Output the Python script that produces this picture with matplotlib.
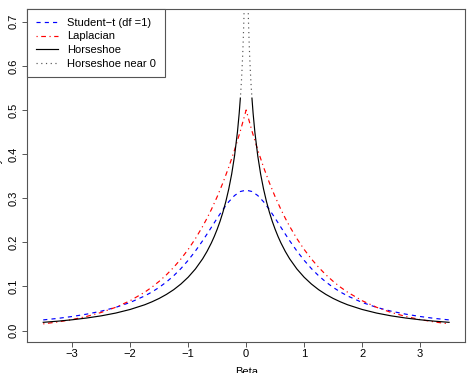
import numpy as np
import matplotlib
matplotlib.use('Agg')
import matplotlib.pyplot as plt

plt.rcParams['font.family'] = ['Liberation Sans', 'DejaVu Sans']

# beta grid for the student-t and laplace curves
beta = [-3.5, -3.25, -3.0, -2.75, -2.5, -2.25, -2.0, -1.75, -1.625, -1.5,
        -1.375, -1.25, -1.125, -1.0, -0.875, -0.75, -0.675, -0.6, -0.5,
        -0.4, -0.3, -0.2, -0.1, 0.0,
        0.1, 0.2, 0.3, 0.4, 0.5, 0.6, 0.675, 0.75, 0.875, 1.0, 1.125, 1.25,
        1.375, 1.5, 1.625, 1.75, 2.0, 2.25, 2.5, 2.75, 3.0, 3.25, 3.5]
student_t = [0.0241, 0.0275, 0.0318, 0.0372, 0.0439, 0.0525, 0.0637, 0.0784,
             0.0874, 0.0979, 0.1101, 0.1242, 0.1405, 0.1592, 0.1803, 0.2037,
             0.2187, 0.2340, 0.2546, 0.2744, 0.2920, 0.3061, 0.3152, 0.3183,
             0.3152, 0.3061, 0.2920, 0.2744, 0.2546, 0.2340, 0.2187, 0.2037,
             0.1803, 0.1592, 0.1405, 0.1242, 0.1101, 0.0979, 0.0874, 0.0784,
             0.0637, 0.0525, 0.0439, 0.0372, 0.0318, 0.0275, 0.0241]
laplace = [0.0151, 0.0194, 0.0249, 0.0320, 0.0410, 0.0527, 0.0677, 0.0869,
           0.0984, 0.1116, 0.1264, 0.1433, 0.1623, 0.1839, 0.2084, 0.2362,
           0.2546, 0.2744, 0.3033, 0.3352, 0.3704, 0.4094, 0.4524, 0.5000,
           0.4524, 0.4094, 0.3704, 0.3352, 0.3033, 0.2744, 0.2546, 0.2362,
           0.2084, 0.1839, 0.1623, 0.1433, 0.1264, 0.1116, 0.0984, 0.0869,
           0.0677, 0.0527, 0.0410, 0.0320, 0.0249, 0.0194, 0.0151]

# horseshoe, solid part (|beta| >= 0.1), one side
hs_beta = [0.1, 0.12, 0.15, 0.2, 0.25, 0.3, 0.35, 0.4, 0.45, 0.5, 0.55, 0.6,
           0.675, 0.75, 0.875, 1.0, 1.125, 1.25, 1.375, 1.5, 1.625, 1.75,
           2.0, 2.25, 2.5, 2.75, 3.0, 3.25, 3.5]
hs_dens = [0.5270, 0.4925, 0.4503, 0.3962, 0.3545, 0.3209, 0.2927, 0.2687,
           0.2478, 0.2295, 0.2132, 0.1986, 0.1794, 0.1627, 0.1396, 0.1209,
           0.1055, 0.0926, 0.0819, 0.0728, 0.0651, 0.0584, 0.0478, 0.0396,
           0.0333, 0.0284, 0.0244, 0.0212, 0.0186]
# horseshoe near 0 (dotted)
near_beta = [0.02, 0.03, 0.04, 0.05, 0.06, 0.07, 0.08, 0.09, 0.1]
near_dens = [0.833, 0.756, 0.701, 0.659, 0.624, 0.595, 0.569, 0.547, 0.527]

xticks = [-3, -2, -1, 0, 1, 2, 3]
yticks = [0.0, 0.1, 0.2, 0.3, 0.4, 0.5, 0.6, 0.7]

fig = plt.figure(figsize=(4.75, 3.73), dpi=100)
ax = fig.add_axes([27 / 475, 1 - 342 / 373, 438.3 / 475, 333 / 373])

hs_b = np.array(hs_beta)
hs_d = np.array(hs_dens)
nb = np.array(near_beta)
nd = np.array(near_dens)

ax.plot(beta, student_t, color='blue', lw=0.85, ls=(0, (3.5, 3.5)),
        label='Student\u2212t (df =1)')
ax.plot(beta, laplace, color='red', lw=0.85, ls=(0, (1, 3, 4, 3)),
        label='Laplacian')
ax.plot(hs_b, hs_d, color='black', lw=0.85, label='Horseshoe')
ax.plot(-hs_b, hs_d, color='black', lw=0.85)
ax.plot(nb, nd, color='#555555', lw=0.85, ls=(0, (1, 3)),
        label='Horseshoe near 0')
ax.plot(-nb, nd, color='#555555', lw=0.85, ls=(0, (1, 3)))

ax.set_xlim(-3.78, 3.78)
ax.set_ylim(-0.026, 0.729)
ax.set_xticks(xticks)
ax.set_yticks(yticks)
ax.set_yticklabels(['%.1f' % v for v in yticks], rotation=90, va='center')
ax.tick_params(labelsize=8, length=3.6, width=0.7, color='#555555', pad=1.5)
ax.tick_params(axis='y', pad=2.5)
for s in ax.spines.values():
    s.set_color('#555555')
    s.set_linewidth(0.8)

leg = ax.legend(loc='upper left', borderaxespad=0, fontsize=8,
                handlelength=2.0, handletextpad=0.8, labelspacing=0.32,
                borderpad=0.8, fancybox=False, framealpha=1,
                edgecolor='#555555')
leg.get_frame().set_linewidth(0.8)

ax.set_xlabel('Beta', fontsize=8, labelpad=6)
fig.text(2.5 / 475, 1 - 175.5 / 373, 'Density', rotation=90, fontsize=8,
         ha='right', va='center')

fig.savefig('out.png', dpi=100)
